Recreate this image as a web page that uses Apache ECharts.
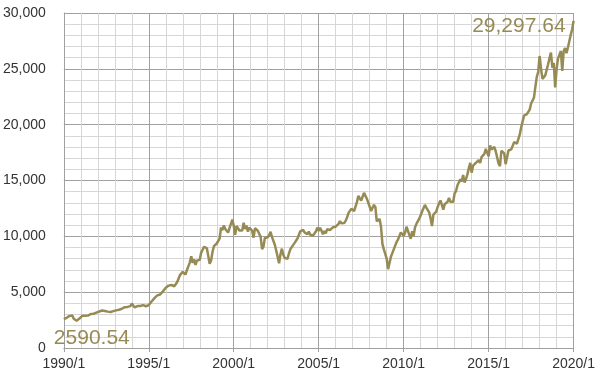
<!DOCTYPE html>
<html>
<head>
<meta charset="utf-8">
<script src="https://cdn.jsdelivr.net/npm/echarts@6/dist/echarts.min.js"></script>
<style>
html, body { margin: 0; padding: 0; background: #fff; }
#chart { width: 598px; height: 375px; }
</style>
</head>
<body>
<div id="chart"></div>
<script>
// 月末終値 1990/1 〜 2019/12
var closes = [
    2590.54, 2627.25, 2707.21, 2656.76, 2876.66, 2880.69, 2905.20, 2614.36, 2452.48, 2442.33, 2559.65, 2633.66,
    2736.39, 2882.18, 2913.86, 2887.87, 3027.50, 2906.75, 3024.82, 3043.60, 3016.77, 3069.10, 2894.68, 3168.83,
    3223.39, 3267.67, 3235.47, 3359.12, 3396.88, 3318.52, 3393.78, 3257.35, 3271.66, 3226.28, 3305.16, 3301.11,
    3310.03, 3370.81, 3435.11, 3427.55, 3527.43, 3516.08, 3539.47, 3651.25, 3555.12, 3680.59, 3683.95, 3754.09,
    3978.36, 3832.02, 3635.96, 3681.69, 3758.37, 3624.96, 3764.50, 3913.42, 3843.19, 3908.12, 3739.23, 3834.44,
    3843.86, 4011.05, 4157.69, 4321.27, 4465.14, 4556.10, 4708.47, 4610.56, 4789.08, 4755.48, 5074.49, 5117.12,
    5395.30, 5485.62, 5587.14, 5569.08, 5643.18, 5654.63, 5528.91, 5616.21, 5882.17, 6029.38, 6521.70, 6448.27,
    6813.09, 6877.74, 6583.48, 7008.99, 7331.04, 7672.79, 8222.61, 7622.42, 7945.26, 7442.08, 7823.13, 7908.25,
    7906.50, 8545.72, 8799.81, 9063.37, 8899.95, 8952.02, 8883.29, 7539.07, 7842.62, 8592.10, 9116.55, 9181.43,
    9358.83, 9306.58, 9786.16, 10789.04, 10559.74, 10970.80, 10655.15, 10829.28, 10336.95, 10729.94, 10877.81, 11497.12,
    10940.53, 10128.31, 10921.92, 10733.91, 10522.33, 10447.89, 10521.98, 11215.10, 10650.92, 10971.14, 10414.49, 10786.85,
    10887.36, 10495.28, 9878.78, 10734.97, 10911.94, 10502.40, 10522.81, 9949.75, 8847.56, 9075.14, 9851.56, 10021.50,
    9920.00, 10106.13, 10403.94, 9946.22, 9925.25, 9243.26, 8736.59, 8663.50, 7591.93, 8397.03, 8896.09, 8341.63,
    8053.81, 7891.08, 7992.13, 8480.09, 8850.26, 8985.44, 9233.80, 9415.82, 9275.06, 9801.12, 9782.46, 10453.92,
    10488.07, 10583.92, 10357.70, 10225.57, 10188.45, 10435.48, 10139.71, 10173.92, 10080.27, 10027.47, 10428.02, 10783.01,
    10489.94, 10766.23, 10503.76, 10192.51, 10467.48, 10274.97, 10640.91, 10481.60, 10568.70, 10440.07, 10805.87, 10717.50,
    10864.86, 10993.41, 11109.32, 11367.14, 11168.31, 11150.22, 11185.68, 11381.15, 11679.07, 12080.73, 12221.93, 12463.15,
    12621.69, 12268.63, 12354.35, 13062.91, 13627.64, 13408.62, 13211.99, 13357.74, 13895.63, 13930.01, 13371.72, 13264.82,
    12650.36, 12266.39, 12262.89, 12820.13, 12638.32, 11350.01, 11378.02, 11543.55, 10850.66, 9325.01, 8829.04, 8776.39,
    8000.86, 7062.93, 7608.92, 8168.12, 8500.33, 8447.00, 9171.61, 9496.28, 9712.28, 9712.73, 10344.84, 10428.05,
    10067.33, 10325.26, 10856.63, 11008.61, 10136.63, 9774.02, 10465.94, 10014.72, 10788.05, 11118.49, 11006.02, 11577.51,
    11891.93, 12226.34, 12319.73, 12810.54, 12569.79, 12414.34, 12143.24, 11613.53, 10913.38, 11955.01, 12045.68, 12217.56,
    12632.91, 12952.07, 13212.04, 13213.63, 12393.45, 12880.09, 13008.68, 13090.84, 13437.13, 13096.46, 13025.58, 13104.14,
    13860.58, 14054.49, 14578.54, 14839.80, 15115.57, 14909.60, 15499.54, 14810.31, 15129.67, 15545.75, 16086.41, 16576.66,
    15698.85, 16321.71, 16457.66, 16580.84, 16717.17, 16826.60, 16563.30, 17098.45, 17042.90, 17390.52, 17828.24, 17823.07,
    17164.95, 18132.70, 17776.12, 17840.52, 18010.68, 17619.51, 17689.86, 16528.03, 16284.70, 17663.54, 17719.92, 17425.03,
    16466.30, 16516.50, 17685.09, 17773.64, 17787.20, 17929.99, 18432.24, 18400.88, 18308.15, 18142.42, 19123.58, 19762.60,
    19864.09, 20812.24, 20663.22, 20940.51, 21008.65, 21349.63, 21891.12, 21948.10, 22405.09, 23377.24, 24272.35, 24719.22,
    26149.39, 25029.20, 24103.11, 24163.15, 24415.84, 24271.41, 25415.19, 25964.82, 26458.31, 25115.76, 25538.46, 23327.46,
    24999.67, 25916.00, 25928.68, 26592.91, 24815.04, 26599.96, 26864.27, 26403.28, 26916.83, 27046.23, 28051.41, 28538.44
];
// 直近値 (2020/1)
var latest = [29297.64];

var xTicks = ['1990/1', '1995/1', '2000/1', '2005/1', '2010/1', '2015/1', '2020/1'];
var yTicks = [0, 5000, 10000, 15000, 20000, 25000, 30000];

var allValues = closes.concat(latest);
var lineData = [];
for (var i = 0; i < allValues.length; i++) {
    lineData.push([i, allValues[i]]);
}
var lastIdx = allValues.length - 1;

var olive = '#978b55';
var majorGrid = '#a0a0a0';
var minorGrid = '#d6d6d6';

var chart = echarts.init(document.getElementById('chart'));
chart.setOption({
    animation: false,
    grid: {left: 63, right: 24, top: 13, bottom: 27},
    xAxis: {
        type: 'value',
        min: 0,
        max: 360,
        interval: 60,
        axisLine: {lineStyle: {color: majorGrid, width: 1}},
        axisTick: {show: true, length: 4, lineStyle: {color: majorGrid}},
        axisLabel: {
            color: '#333',
            fontSize: 14,
            fontFamily: 'Arial, Liberation Sans, sans-serif',
            margin: 9,
            formatter: function (v) {
                return xTicks[Math.round(v / 60)];
            }
        },
        splitLine: {show: true, lineStyle: {color: majorGrid, width: 1}},
        minorTick: {show: false, splitNumber: 5},
        minorSplitLine: {show: true, lineStyle: {color: minorGrid, width: 1}}
    },
    yAxis: {
        type: 'value',
        min: yTicks[0],
        max: yTicks[yTicks.length - 1],
        interval: 5000,
        axisLine: {show: true, lineStyle: {color: majorGrid, width: 1}},
        axisTick: {show: false},
        axisLabel: {
            color: '#333',
            fontSize: 14,
            fontFamily: 'Arial, Liberation Sans, sans-serif',
            margin: 18,
            formatter: function (v) {
                return v.toLocaleString('en-US');
            }
        },
        splitLine: {show: true, lineStyle: {color: majorGrid, width: 1}},
        minorTick: {show: false, splitNumber: 5},
        minorSplitLine: {show: true, lineStyle: {color: minorGrid, width: 1}}
    },
    series: [{
        type: 'line',
        data: lineData,
        showSymbol: false,
        symbol: 'none',
        lineStyle: {color: olive, width: 2.5},
        z: 3,
        markPoint: {
            symbol: 'circle',
            symbolSize: 0,
            silent: true,
            label: {
                show: true,
                color: olive,
                fontSize: 21,
                fontFamily: 'Arial, Liberation Sans, sans-serif'
            },
            data: [
                {
                    coord: [0, allValues[0]],
                    label: {
                        position: 'bottom',
                        offset: [28, 4],
                        formatter: allValues[0].toFixed(2)
                    }
                },
                {
                    coord: [lastIdx, allValues[lastIdx]],
                    label: {
                        position: 'left',
                        offset: [-3, 5],
                        formatter: allValues[lastIdx].toLocaleString('en-US', {minimumFractionDigits: 2})
                    }
                }
            ]
        }
    }]
});
</script>
</body>
</html>
